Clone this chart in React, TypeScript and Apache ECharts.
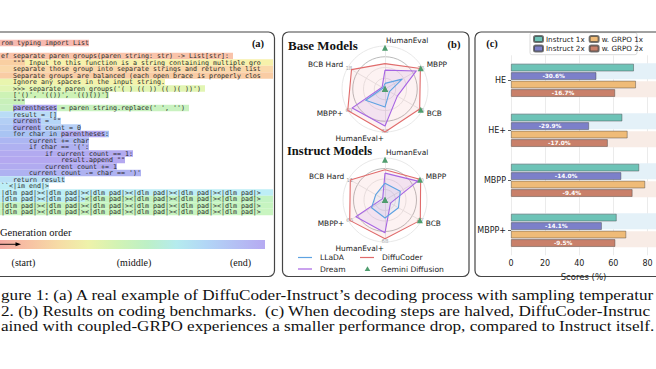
import React, { useEffect, useRef } from "react";
import * as echarts from "echarts";

// ---------------- panel (a): decoding example (visible part of each line) ----------------
const DLM = "|dlm pad|><|dlm pad|><|dlm pad|><|dlm pad|><|dlm pad|><|dlm pad|>";
const CODE_LINES: string[] = [
  "rom typing import List",
  "",
  "ef separate paren groups(paren string: str) -> List[str]:",
  '   """ Input to this function is a string containing multiple gro',
  "   separate those group into separate strings and return the list",
  "   Separate groups are balanced (each open brace is properly clos",
  "   Ignore any spaces in the input string.",
  "   >>> separate paren groups('( ) (( )) (( )( ))')",
  "   ['()', '(())', '(()())']",
  '   """',
  "   parentheses = paren string.replace(' ', '')",
  "   result = []",
  '   current = ""',
  "   current count = 0",
  "   for char in parentheses:",
  "       current += char",
  "       if char == '(':",
  "           if current count == 1:",
  '               result.append ""',
  "           current count += 1",
  "       current count -= char == ')'",
  "   return result",
  "``<|im end|>",
  DLM,
  DLM,
  DLM,
  DLM,
];
// [line, fromChar, toChar, colour] : generation-order highlight of each token span
const CODE_HIGHLIGHTS: [number, number, number, string][] = [
  [0, 0, 23, "#f7b9b0"],
  [2, 0, 59, "#f9c3aa"],
  [3, 0, 7, "#f9cfa2"], [3, 7, 69, "#f7f1aa"],
  [4, 0, 69, "#fad8aa"],
  [5, 0, 69, "#f9cca4"],
  [6, 0, 4, "#e9f5ae"], [6, 4, 42, "#f4f3ab"],
  [7, 0, 52, "#e2f5b3"],
  [8, 0, 28, "#cdf2b5"],
  [9, 0, 7, "#c8f0ba"],
  [10, 0, 4, "#c8f0c0"], [10, 4, 15, "#b1a9f0"], [10, 15, 48, "#c9f2c0"],
  [11, 0, 15, "#b9dcf6"],
  [12, 0, 4, "#b3cff5"], [12, 4, 11, "#a9b1f0"], [12, 11, 16, "#b6d6f7"],
  [13, 0, 4, "#adc7f3"], [13, 4, 11, "#a9a9ef"], [13, 11, 21, "#b6cff6"],
  [14, 0, 16, "#a9c4f3"], [14, 16, 27, "#b3a9f0"], [14, 27, 28, "#a9c4f3"],
  [15, 0, 23, "#acb6f2"],
  [16, 0, 23, "#afb1f1"],
  [17, 0, 34, "#b2aaf0"],
  [18, 0, 32, "#b4a8f0"],
  [19, 0, 30, "#b1abf0"],
  [20, 0, 36, "#aeb2f1"],
  [21, 0, 17, "#b9e0f6"],
  [22, 0, 13, "#bdeef6"],
  [23, 0, 69, "#bdeef6"],
  [24, 0, 22, "#bdeef6"], [24, 22, 69, "#c3f3c3"],
  [25, 0, 69, "#c6f4c0"],
  [26, 0, 69, "#c9f5c0"],
];
const ORDER_COLORS = ["#f4a9a2", "#f7c2a3", "#f6dca6", "#eef2aa", "#d2f3b4", "#bdf0c6", "#b5ebee", "#b2d6f6", "#b4c0f4", "#b6aaf2"];
const ORDER_LABELS = ["(start)", "(middle)", "(end)"];

// ---------------- panel (b): radar ----------------
// indicator order (counter-clockwise from top)
const RADAR_AXES = ["HumanEval", "BCB Hard", "MBPP+", "HumanEval+", "BCB", "MBPP"];
const RADAR_ALIGN = ["left", "right", "right", "right", "left", "left"];
const BASE_MAX = [93, 18, 60, 60, 45, 76];
const BASE_MAX_LABELS = ["", "18", "60", "60", "45", "76"];
const BASE_LLADA = [12.1, 0.9, 31.2, 25.2, 5.4, 35.0];
const BASE_DREAM = [40.9, 1.4, 52.8, 51.6, 14.9, 63.8];
const BASE_DIFFU = [54.9, 16.2, 60.0, 60.0, 41.9, 72.2];
const BASE_GEMINI: (number | string)[] = [89.3, "-", "-", "-", 43.2, 73.0];
const INST_MAX = [93, 11, 66, 68, 47, 80];
const INST_MAX_LABELS = ["", "11", "66", "68", "47", "80"];
const INST_LLADA = [37.2, 2.8, 24.4, 29.2, 17.4, 33.6];
const INST_DREAM = [59.5, 0.7, 52.8, 53.0, 7.1, 72.0];
const INST_DIFFU = [67.0, 10.5, 64.0, 62.6, 45.6, 78.4];
const INST_GEMINI: (number | string)[] = [89.3, "-", "-", "-", 45.1, 76.8];
const MODELS = ["LLaDA", "DiffuCoder", "Dream", "Gemini Diffusion"];

// ---------------- panel (c): bars ----------------
const BENCH = ["HE", "HE+", "MBPP", "MBPP+"];
const INSTRUCT_1X = [72.0, 65.2, 75.1, 61.9];
const INSTRUCT_2X = [50.0, 45.7, 64.6, 53.2];
const GRPO_1X = [73.2, 68.3, 78.6, 67.5];
const GRPO_2X = [61.0, 56.7, 71.2, 61.1];
const INSTRUCT_DROP = ["-30.6%", "-29.9%", "-14.0%", "-14.1%"];
const GRPO_DROP = ["-16.7%", "-17.0%", "-9.4%", "-9.5%"];
const BAND_FULL = [85, 85, 85, 85];
const X_AXIS_MAX = 85;

const CAPTION = [
  "gure 1: (a) A real example of DiffuCoder-Instruct\u2019s decoding process with sampling temperatur",
  "2. (b) Results on coding benchmarks.  (c) When decoding steps are halved, DiffuCoder-Instruc",
  "ained with coupled-GRPO experiences a smaller performance drop, compared to Instruct itself.",
];

const C = {
  llada: "#5ea3e2",
  dream: "#a765e3",
  diffu: "#e06b6b",
  gemini: "#4f9d6e",
  teal: "#6dc3b7",
  indigo: "#7c80c9",
  orange: "#efbb78",
  brown: "#c9806a",
};

const SANS = '"DejaVu Sans", sans-serif';
const SERIF = '"Liberation Serif", "Times New Roman", serif';
const MONO = '"DejaVu Sans Mono", monospace';

function txt(text: string, x: number, y: number, font: string, align = "left", fill = "#222", extra: any = {}) {
  return {
    type: "text",
    silent: true,
    ...extra,
    style: { text, x, y, font, fill, textAlign: align, textVerticalAlign: "middle" },
  };
}

function buildGraphic(): any[] {
  const g: any[] = [];
  const HX0 = -3; // origin of the (partly hidden) code column
  const CW = 4.0;
  const Y0 = 43;
  const LH = 6.5;
  const frame = (x: number, w: number) => ({
    type: "rect",
    silent: true,
    shape: { x, y: 32, width: w, height: 244.5, r: 6 },
    style: { fill: "none", stroke: "#454545", lineWidth: 1.2 },
  });
  CODE_HIGHLIGHTS.forEach(([ln, a, b, col]) => {
    g.push({
      type: "rect",
      silent: true,
      shape: { x: HX0 + a * CW, y: Y0 + ln * LH - LH / 2, width: (b - a) * CW, height: LH },
      style: { fill: col },
    });
  });
  CODE_LINES.forEach((line, i) => {
    if (!line) return;
    g.push(txt(line, HX0 + CW, Y0 + i * LH + 0.3, `6.65px ${MONO}`, "left", "#2b2b2b"));
  });
  g.push(txt("(a)", 258, 43.5, `bold 10.5px ${SERIF}`, "center", "#111"));
  g.push(txt("Generation order", 0, 232, `10.5px ${SERIF}`, "left", "#111"));
  g.push({
    type: "rect",
    silent: true,
    shape: { x: 0, y: 240, width: 265, height: 9 },
    style: {
      fill: new echarts.graphic.LinearGradient(
        0, 0, 1, 0,
        ORDER_COLORS.map((c, i) => ({ offset: i / (ORDER_COLORS.length - 1), color: c }))
      ),
    },
  });
  g.push({ type: "line", silent: true, shape: { x1: 0, y1: 244.3, x2: 17, y2: 244.3 }, style: { stroke: "#000", lineWidth: 0.9 } });
  g.push({ type: "polygon", silent: true, shape: { points: [[21, 244.3], [15.5, 242.3], [15.5, 246.3]] }, style: { fill: "#000" } });
  g.push(txt(ORDER_LABELS[0], 23.5, 262, `10px ${SERIF}`, "center", "#111"));
  g.push(txt(ORDER_LABELS[1], 134, 262, `10px ${SERIF}`, "center", "#111"));
  g.push(txt(ORDER_LABELS[2], 240.5, 262, `10px ${SERIF}`, "center", "#111"));

  // panel (b)
  g.push(txt("Base Models", 288, 45, `bold 13px ${SERIF}`, "left", "#111"));
  g.push(txt("(b)", 454, 44, `bold 10.5px ${SERIF}`, "center", "#111"));
  g.push(txt("Instruct Models", 287, 150.5, `bold 12.5px ${SERIF}`, "left", "#111"));
  const radarLabels = (cx: number, cy: number, r: number, maxLabels: string[]) => {
    RADAR_AXES.forEach((name, i) => {
      const a = ((90 + i * 60) * Math.PI) / 180;
      const vertical = Math.abs(Math.cos(a)) < 0.01;
      const R = r * (i === 3 ? 1.16 : 1.12);
      const dx = vertical ? (RADAR_ALIGN[i] === "left" ? 1 : -1) : 0;
      g.push(txt(name, cx + R * Math.cos(a) + dx, cy - R * Math.sin(a), `7.4px ${SANS}`, RADAR_ALIGN[i], "#222"));
      if (maxLabels[i]) {
        const rr = r * 0.97;
        g.push(txt(maxLabels[i], cx + rr * Math.cos(a), cy - rr * Math.sin(a), `5.5px ${SANS}`, "center", "#999"));
      }
    });
  };
  radarLabels(385, 89, 43, BASE_MAX_LABELS);
  radarLabels(385, 200, 42, INST_MAX_LABELS);
  const legLine = (x: number, y: number, col: string) =>
    g.push({ type: "line", silent: true, shape: { x1: x, y1: y, x2: x + 14, y2: y }, style: { stroke: col, lineWidth: 1.2 } });
  legLine(298, 257.5, C.llada);
  g.push(txt(MODELS[0], 320, 257.5, `7.6px ${SANS}`, "left", "#222"));
  legLine(360, 257.5, C.diffu);
  g.push(txt(MODELS[1], 382, 257.5, `7.6px ${SANS}`, "left", "#222"));
  legLine(298, 269, C.dream);
  g.push(txt(MODELS[2], 320, 269, `7.6px ${SANS}`, "left", "#222"));
  g.push({ type: "polygon", silent: true, shape: { points: [[367.5, 266.3], [370.3, 271], [364.7, 271]] }, style: { fill: C.gemini } });
  g.push(txt(MODELS[3], 381, 269, `7.6px ${SANS}`, "left", "#222"));

  // panel (c)
  g.push(txt("(c)", 492, 43.5, `bold 10.5px ${SERIF}`, "center", "#111"));
  g.push({
    type: "rect",
    silent: true,
    shape: { x: 530, y: 32.7, width: 107, height: 22, r: 2 },
    style: { fill: "rgba(255,255,255,0.9)", stroke: "#d0d0d0", lineWidth: 0.8 },
  });

  // caption (horizontally stretched like the reference)
  CAPTION.forEach((line, i) => {
    g.push({
      type: "text",
      silent: true,
      x: 1,
      y: 295.5 + i * 15.5,
      scaleX: 1.225,
      style: { text: line, x: 0, y: 0, font: `14px ${SERIF}`, fill: "#111", textAlign: "left", textVerticalAlign: "middle" },
    });
  });

  g.push(frame(-10, 284.5));
  g.push(frame(282.5, 186.5));
  g.push(frame(475, 200));
  return g;
}

function radarCfg(center: [number, number], radius: number, max: number[]) {
  return {
    center,
    radius,
    startAngle: 90,
    shape: "circle",
    splitNumber: 4,
    indicator: RADAR_AXES.map((name, i) => ({ name, min: 0, max: max[i] })),
    axisName: { show: false },
    splitArea: { show: false },
    splitLine: { lineStyle: { color: ["#e2e2e2", "#e2e2e2", "#e2e2e2", "#a8a8a8"], width: 0.8 } },
    axisLine: { lineStyle: { color: "#e2e2e2", width: 0.8 } },
    axisTick: { show: false },
    axisLabel: { show: false },
  };
}

function radarSeries(radarIndex: number, llada: number[], dream: number[], diffu: number[], gemini: (number | string)[]) {
  const poly = (name: string, value: number[], col: string, fill: string, z: number) => ({
    type: "radar",
    radarIndex,
    z,
    symbol: "none",
    data: [
      {
        name,
        value,
        lineStyle: { color: col, width: 1.1 },
        areaStyle: { color: fill },
        itemStyle: { color: col },
      },
    ],
  });
  return [
    poly(MODELS[1], diffu, C.diffu, "rgba(230,120,120,0.14)", 2),
    poly(MODELS[2], dream, C.dream, "rgba(165,105,230,0.16)", 3),
    poly(MODELS[0], llada, C.llada, "rgba(94,163,226,0.12)", 4),
    {
      type: "radar",
      radarIndex,
      z: 5,
      symbol: "triangle",
      symbolSize: 6,
      data: [
        {
          name: MODELS[3],
          value: gemini,
          lineStyle: { opacity: 0, width: 0 },
          itemStyle: { color: C.gemini },
        },
      ],
    },
  ];
}

function barSeries(name: string, data: number[], color: string, labels?: string[]) {
  return {
    type: "bar",
    name,
    data,
    xAxisIndex: 0,
    yAxisIndex: 0,
    barWidth: 7.5,
    barGap: "13%",
    z: 3,
    itemStyle: { color, borderColor: "rgba(60,60,60,0.7)", borderWidth: 0.6 },
    label: labels
      ? {
          show: true,
          position: "inside",
          formatter: (p: any) => labels[p.dataIndex],
          color: "#fff",
          fontSize: 5.8,
          fontWeight: "bold",
          fontFamily: SANS,
        }
      : { show: false },
  };
}

function bandSeries(color: string) {
  return {
    type: "bar",
    data: BAND_FULL,
    xAxisIndex: 0,
    yAxisIndex: 1,
    barWidth: 16,
    barGap: "13%",
    z: 1,
    silent: true,
    itemStyle: { color },
  };
}

function buildOption(): any {
  const legendText = { fontSize: 7.2, fontFamily: SANS, color: "#222", padding: [0, 0, 0, -2] };
  return {
    animation: false,
    backgroundColor: "#fff",
    radar: [radarCfg([385, 89], 43, BASE_MAX), radarCfg([385, 200], 42, INST_MAX)],
    grid: { left: 511, top: 55.3, width: 148.75, height: 200, containLabel: false },
    xAxis: {
      type: "value",
      min: 0,
      max: X_AXIS_MAX,
      interval: 20,
      name: "Scores (%)",
      nameLocation: "middle",
      nameGap: 11,
      nameTextStyle: { fontSize: 8.5, fontFamily: SANS, color: "#222" },
      axisLine: { show: false },
      axisTick: { show: false },
      axisLabel: { fontSize: 8, fontFamily: SANS, color: "#222", margin: 4, showMaxLabel: false },
      splitLine: { lineStyle: { color: "#e6e6e6", width: 0.8 } },
    },
    yAxis: [
      {
        type: "category",
        data: BENCH,
        inverse: true,
        axisLine: { show: false },
        axisTick: { show: true, length: 3, alignWithLabel: true, lineStyle: { color: "#333", width: 0.8 } },
        axisLabel: { fontSize: 8, fontFamily: SANS, color: "#222", margin: 5 },
        splitLine: { show: false },
      },
      { type: "category", data: BENCH, inverse: true, show: false },
    ],
    legend: [
      {
        data: ["Instruct 1x", "w. GRPO 1x"],
        left: 533,
        top: 35,
        padding: 0,
        itemWidth: 9,
        itemHeight: 6,
        itemGap: 4,
        textStyle: legendText,
      },
      {
        data: ["Instruct 2x", "w. GRPO 2x"],
        left: 533,
        top: 44.5,
        padding: 0,
        itemWidth: 9,
        itemHeight: 6,
        itemGap: 4,
        textStyle: legendText,
      },
    ],
    graphic: { elements: buildGraphic() },
    series: [
      ...radarSeries(0, BASE_LLADA, BASE_DREAM, BASE_DIFFU, BASE_GEMINI),
      ...radarSeries(1, INST_LLADA, INST_DREAM, INST_DIFFU, INST_GEMINI),
      bandSeries("#e4f1f8"),
      bandSeries("#f8ece6"),
      barSeries("Instruct 1x", INSTRUCT_1X, C.teal),
      barSeries("Instruct 2x", INSTRUCT_2X, C.indigo, INSTRUCT_DROP),
      barSeries("w. GRPO 1x", GRPO_1X, C.orange),
      barSeries("w. GRPO 2x", GRPO_2X, C.brown, GRPO_DROP),
    ],
  };
}

export default function App() {
  const ref = useRef<HTMLDivElement>(null);
  useEffect(() => {
    document.body.style.margin = "0";
    const chart = echarts.init(ref.current!, null, { renderer: "svg" });
    chart.setOption(buildOption());
    return () => chart.dispose();
  }, []);
  return <div ref={ref} style={{ width: 656, height: 369, background: "#fff" }} />;
}
